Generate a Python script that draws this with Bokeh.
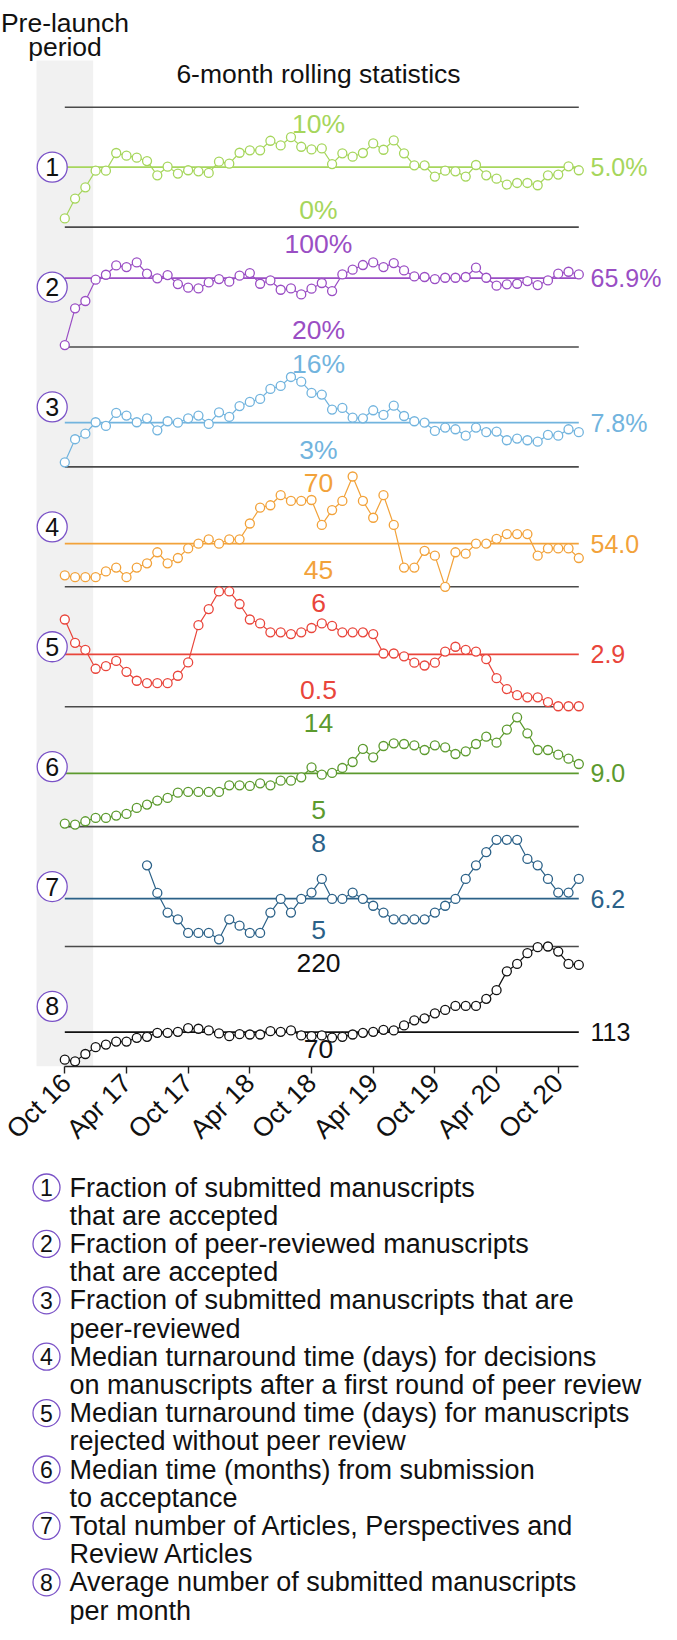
import math
from bokeh.plotting import figure
from bokeh.models import Range1d
from bokeh.layouts import column
from bokeh.embed import file_html
from bokeh.resources import INLINE
from bokeh.core.properties import value

nan = float("nan")

# ---------------- data ----------------
months = list(range(51))  # 0 = Oct 2016 ... 50 = Dec 2020
tick_positions = [0, 6, 12, 18, 24, 30, 36, 42, 48]
tick_labels = ["Oct 16", "Apr 17", "Oct 17", "Apr 18", "Oct 18",
               "Apr 19", "Oct 19", "Apr 20", "Oct 20"]
prelaunch = (-2.75, 2.76)

s1 = [0.72, 2.38, 3.32, 4.71, 4.71, 6.18, 5.96, 5.79, 5.51, 4.32,
      5.04, 4.46, 4.74, 4.65, 4.52, 5.46, 5.29, 6.2, 6.4, 6.4,
      7.2, 6.81, 7.5, 6.7, 6.48, 6.56, 5.26, 6.15, 5.87, 6.18,
      6.98, 6.45, 7.23, 6.15, 5.15, 5.15, 4.21, 4.71, 4.65, 4.21,
      5.18, 4.32, 4.04, 3.55, 3.68, 3.68, 3.49, 4.32, 4.38, 5.07, 4.74]
s2 = [21.3, 45.8, 50.7, 64.9, 68.2, 74.4, 73.3, 76.4, 68.9, 65.8,
      68.0, 62.0, 59.6, 59.1, 63.1, 65.3, 63.6, 67.6, 69.3, 62.2,
      64.4, 58.2, 59.1, 55.1, 58.9, 62.7, 57.3, 68.4, 71.6, 74.7,
      76.4, 73.3, 76.0, 71.1, 67.1, 66.7, 65.3, 66.2, 66.2, 66.7,
      72.9, 66.2, 60.9, 61.8, 62.2, 64.0, 61.3, 64.4, 68.9, 70.2, 68.4]
s3 = [3.5, 6.0, 6.6, 7.84, 7.44, 8.85, 8.56, 7.84, 8.27, 6.97,
      7.95, 7.8, 8.27, 8.56, 7.66, 8.92, 8.42, 9.6, 10.04, 10.37,
      11.45, 11.78, 12.75, 12.24, 11.02, 10.84, 9.21, 9.39, 8.34, 8.27,
      9.14, 8.63, 9.64, 8.52, 7.95, 7.8, 6.9, 7.26, 7.08, 6.39,
      7.26, 6.76, 6.83, 5.89, 6.07, 5.89, 5.74, 6.47, 6.39, 7.08, 6.76]
s4 = [47.4, 47.0, 47.0, 47.0, 48.2, 49.0, 47.0, 49.0, 49.9, 52.2,
      49.9, 51.0, 53.0, 54.0, 54.9, 54.0, 54.9, 54.9, 58.2, 61.5,
      62.0, 64.1, 62.9, 62.9, 63.1, 57.9, 61.0, 62.9, 68.0, 62.9,
      59.4, 64.1, 57.9, 49.0, 49.0, 52.5, 51.5, 45.0, 52.2, 51.9,
      54.0, 54.0, 55.0, 56.0, 56.0, 56.0, 51.5, 53.0, 53.0, 53.0, 51.0]
s5 = [4.50, 3.43, 3.11, 2.24, 2.36, 2.6, 2.10, 1.69, 1.58, 1.58,
      1.58, 1.92, 2.53, 4.24, 4.98, 5.79, 5.79, 5.21, 4.50, 4.32,
      3.91, 3.91, 3.83, 3.91, 4.11, 4.32, 4.21, 3.91, 3.91, 3.91,
      3.83, 2.94, 2.94, 2.81, 2.52, 2.39, 2.52, 3.03, 3.25, 3.11,
      3.03, 2.68, 1.81, 1.31, 1.03, 0.93, 0.93, 0.71, 0.52, 0.52, 0.52]
s6 = [5.23, 5.15, 5.4, 5.65, 5.65, 5.83, 5.95, 6.4, 6.65, 6.95,
      7.15, 7.55, 7.6, 7.6, 7.6, 7.6, 8.1, 8.1, 8.05, 8.25,
      8.1, 8.45, 8.45, 8.7, 9.45, 8.9, 9.03, 9.4, 9.85, 10.83,
      10.2, 11.05, 11.25, 11.2, 11.1, 10.75, 11.1, 10.95, 10.45, 10.65,
      11.2, 11.75, 11.3, 12.28, 13.2, 12.0, 10.75, 10.75, 10.4, 10.1, 9.7]
s7 = [nan, nan, nan, nan, nan, nan, nan, nan, 7.03, 6.34,
      5.85, 5.68, 5.34, 5.34, 5.34, 5.18, 5.68, 5.52, 5.34, 5.34,
      5.85, 6.19, 5.85, 6.19, 6.35, 6.69, 6.19, 6.19, 6.35, 6.19,
      6.02, 5.85, 5.68, 5.68, 5.68, 5.68, 5.85, 6.02, 6.19, 6.69,
      7.03, 7.36, 7.67, 7.67, 7.67, 7.19, 7.03, 6.69, 6.35, 6.35, 6.69]
s8 = [78.4, 76.3, 85.5, 94.0, 97.3, 101.1, 101.1, 105.7, 107.0, 112.0,
      112.0, 113.3, 117.9, 117.1, 115.0, 111.2, 107.8, 110.3, 109.9, 109.9,
      114.1, 113.3, 115.0, 108.7, 107.8, 108.7, 106.1, 107.0, 109.9, 112.0,
      113.3, 115.8, 115.0, 121.3, 127.6, 130.1, 136.4, 140.6, 145.6, 145.6,
      145.6, 154.5, 165.4, 188.9, 198.2, 211.6, 219.2, 220.0, 213.7, 198.2, 196.9]
series = [s1, s2, s3, s4, s5, s6, s7, s8]

means = [5.0, 65.9, 7.8, 54.0, 2.9, 9.0, 6.2, 113]
mean_labels = ["5.0%", "65.9%", "7.8%", "54.0", "2.9", "9.0", "6.2", "113"]
range_lo = [0, 20, 3, 45, 0.5, 5, 5, 70]
range_hi = [10, 100, 16, 70, 6, 14, 8, 220]
lo_labels = ["0%", "20%", "3%", "45", "0.5", "5", "5", "70"]
hi_labels = ["10%", "100%", "16%", "70", "6", "14", "8", "220"]
colors = ["#a6d65c", "#9a4ec4", "#72b4de", "#f2a23a",
          "#e9453b", "#5c9a2e", "#2b6188", "#111111"]
numbers = ["1", "2", "3", "4", "5", "6", "7", "8"]
legend_lines = [
    ("Fraction of submitted manuscripts", "that are accepted"),
    ("Fraction of peer-reviewed manuscripts", "that are accepted"),
    ("Fraction of submitted manuscripts that are", "peer-reviewed"),
    ("Median turnaround time (days) for decisions",
     "on manuscripts after a first round of peer review"),
    ("Median turnaround time (days) for manuscripts", "rejected without peer review"),
    ("Median time (months) from submission", "to acceptance"),
    ("Total number of Articles, Perspectives and", "Review Articles"),
    ("Average number of submitted manuscripts", "per month"),
]
title_text = "6-month rolling statistics"
prelaunch_text = ["Pre-launch", "period"]

# ---------------- layout constants (figure pixels from top-left) ----------------
FONT = value("Liberation Sans")
FS = value("26.5px")
PX_PER_MONTH = 10.28
X0 = 64.3               # x of month 0
FIG_W = 661
FIG_H = 1624
FRAME_BOTTOM = 1066.0
PANEL_TOP0 = 106.7
PANEL_H = 119.9
MAIN_BOTTOM_BORDER = 100
circle_color = "#7a52c7"
sep_color = "#4a4a4a"

x_start = (0 - X0) / PX_PER_MONTH
x_end = x_start + FIG_W / PX_PER_MONTH

def px_to_x(px):
    return (px - X0) / PX_PER_MONTH

p = figure(width=FIG_W, frame_width=FIG_W, frame_height=int(FRAME_BOTTOM),
           x_range=Range1d(x_start, x_end),
           y_range=Range1d(FRAME_BOTTOM, 0),
           y_axis_location=None, output_backend="svg", toolbar_location=None,
           min_border_left=0, min_border_right=0, min_border_top=0,
           min_border_bottom=MAIN_BOTTOM_BORDER)
p.grid.visible = False
p.outline_line_color = None
p.background_fill_color = "white"
p.border_fill_color = "white"

# pre-launch band
p.quad(left=[prelaunch[0]], right=[prelaunch[1]], top=[60], bottom=[FRAME_BOTTOM],
       fill_color="#f1f1f1", line_color=None)

p.text(x=[px_to_x(64.5)] * 2, y=[22, 46], text=prelaunch_text, text_font=FONT,
       text_font_size=FS, text_align="center", text_baseline="alphabetic", text_color="#111")
p.text(x=[px_to_x(318)], y=[73.5], text=[title_text], text_font=FONT,
       text_font_size=FS, text_align="center", text_baseline="alphabetic", text_color="#111")

tops = [PANEL_TOP0 + PANEL_H * k for k in range(8)]
bottoms = [t + PANEL_H for t in tops]

# separators (the last one is the x axis line)
p.segment(x0=[0] * 8, x1=[50] * 8, y0=tops, y1=tops, line_color=sep_color, line_width=1.6)

label_x = px_to_x(318)
for k in range(8):
    yt, yb = tops[k], bottoms[k]
    lo, hi = range_lo[k], range_hi[k]
    per_px = (hi - lo) / (yb - yt)
    name = "p%d" % k
    p.extra_y_ranges[name] = Range1d(start=lo - (FRAME_BOTTOM - yb) * per_px,
                                     end=hi + yt * per_px)
    c = colors[k]
    p.segment(x0=[0], x1=[50], y0=[means[k]], y1=[means[k]], y_range_name=name,
              line_color=c, line_width=1.8)
    p.line(months, series[k], y_range_name=name, line_color=c, line_width=1.2)
    p.scatter(months, series[k], y_range_name=name, marker="circle", size=9,
              fill_color="white", line_color=c, line_width=1.3)
    # range labels
    p.text(x=[label_x], y=[yt + 16.5], text=[hi_labels[k]], text_font=FONT,
           text_font_size=FS, text_align="center", text_baseline="middle", text_color=c)
    p.text(x=[label_x], y=[yb - 17], text=[lo_labels[k]], text_font=FONT,
           text_font_size=FS, text_align="center", text_baseline="middle", text_color=c)
    # mean value labels
    p.text(x=[px_to_x(590)], y=[means[k]], y_range_name=name, text=[mean_labels[k]],
           text_font=FONT, text_font_size=value("25px"), text_align="left",
           text_baseline="middle", text_color=c)

mids = [t + PANEL_H / 2 for t in tops]
p.scatter(x=[px_to_x(51.7)] * 8, y=mids, marker="circle", size=30, fill_color="white",
          line_color=circle_color, line_width=1.3)
p.text(x=[px_to_x(51.7)] * 8, y=mids, text=numbers, text_font=FONT,
       text_font_size=value("25px"), text_align="center", text_baseline="middle",
       text_color="#111")

ax = p.xaxis[0]
ax.ticker = tick_positions
ax.major_label_overrides = {t: l for t, l in zip(tick_positions, tick_labels)}
ax.bounds = (0, 50)
ax.major_label_orientation = math.pi / 4
ax.major_label_text_font = "Liberation Sans"
ax.major_label_text_font_size = "26.5px"
ax.major_label_text_color = "#111"
ax.major_tick_out = 7
ax.major_tick_in = 0
ax.minor_tick_out = 0
ax.minor_tick_in = 0
ax.axis_line_color = "#222"
ax.axis_line_width = 1.6
ax.major_tick_line_color = "#222"
ax.major_tick_line_width = 1.4
ax.major_label_standoff = 5

# ---------------- legend figure ----------------
LEG_TOP = FRAME_BOTTOM + MAIN_BOTTOM_BORDER
lg = figure(width=FIG_W, height=int(FIG_H - LEG_TOP),
            x_range=Range1d(0, FIG_W), y_range=Range1d(FIG_H, LEG_TOP),
            x_axis_location=None, y_axis_location=None, output_backend="svg",
            toolbar_location=None, min_border=0)
lg.grid.visible = False
lg.outline_line_color = None

LINE_STEP = 28.2
item_y = [1187 + 2 * LINE_STEP * i for i in range(8)]
lg.scatter(x=[46] * 8, y=item_y, marker="circle", size=27, fill_color="white",
           line_color=circle_color, line_width=1.3)
lg.text(x=[46] * 8, y=item_y, text=numbers, text_font=FONT, text_font_size=value("23px"),
        text_align="center", text_baseline="middle", text_color="#111")
lg.text(x=[69] * 8, y=item_y, text=[a for a, b in legend_lines], text_font=FONT,
        text_font_size=value("27px"), text_align="left", text_baseline="middle",
        text_color="#111")
lg.text(x=[69] * 8, y=[y + LINE_STEP for y in item_y], text=[b for a, b in legend_lines],
        text_font=FONT, text_font_size=value("27px"), text_align="left",
        text_baseline="middle", text_color="#111")

layout = column(p, lg, spacing=0)
open("out.html", "w").write(file_html(layout, INLINE))
